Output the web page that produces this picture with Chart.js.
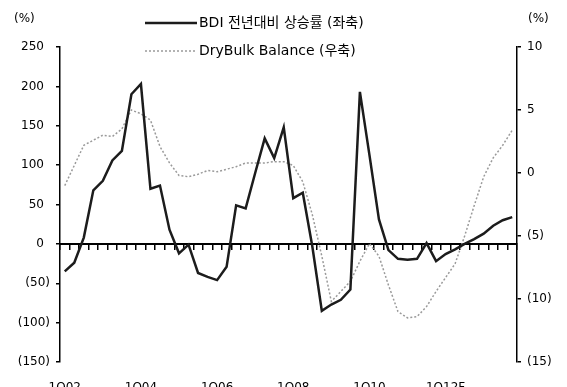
<!DOCTYPE html>
<html>
<head>
<meta charset="utf-8">
<script src="https://cdn.jsdelivr.net/npm/chart.js@4.4.1/dist/chart.umd.min.js"></script>
<style>
  html, body { margin: 0; padding: 0; background: #fff; overflow: hidden; }
  #wrap { width: 567px; height: 387px; overflow: hidden; position: relative; }
  canvas { display: block; }
</style>
</head>
<body>
<div id="wrap"><canvas id="chart" width="567" height="420"></canvas></div>
<script>
// Quarterly categories, 1Q02 - 4Q13 (2012 onward are forecasts)
const quarters = [
  '1Q02','2Q02','3Q02','4Q02','1Q03','2Q03','3Q03','4Q03',
  '1Q04','2Q04','3Q04','4Q04','1Q05','2Q05','3Q05','4Q05',
  '1Q06','2Q06','3Q06','4Q06','1Q07','2Q07','3Q07','4Q07',
  '1Q08','2Q08','3Q08','4Q08','1Q09','2Q09','3Q09','4Q09',
  '1Q10','2Q10','3Q10','4Q10','1Q11','2Q11','3Q11','4Q11',
  '1Q12F','2Q12F','3Q12F','4Q12F','1Q13F','2Q13F','3Q13F','4Q13F'
];
// Category labels printed under the plot
const axisLabels = ['1Q02','1Q04','1Q06','1Q08','1Q10','1Q12F'];

// BDI year-on-year change (%), left axis
const bdiYoY = [
  -35, -24, 8, 68, 80, 106, 118, 190,
  203, 70, 74, 18, -12, -1, -37, -42,
  -46, -29, 49, 45, 90, 134, 109, 148,
  58, 65, -3, -85, -77, -71, -58, 193,
  113, 31, -8, -19, -20, -19, 1, -22,
  -13, -7, 0, 6, 13, 23, 30, 34
];
// Dry bulk supply/demand balance (%), right axis
const dryBulkBalance = [
  -1.0, 0.6, 2.2, 2.6, 3.0, 2.9, 3.5, 5.0,
  4.7, 4.2, 2.1, 0.8, -0.2, -0.3, -0.1, 0.2,
  0.1, 0.3, 0.5, 0.8, 0.8, 0.8, 0.9, 0.9,
  0.6, -0.7, -3.3, -6.6, -10.2, -9.4, -8.6, -7.0,
  -5.6, -6.6, -8.9, -11.0, -11.5, -11.4, -10.6, -9.4,
  -8.3, -7.2, -5.0, -2.6, -0.3, 1.2, 2.2, 3.4
];

const seriesNames = ['BDI 전년대비 상승률 (좌축)', 'DryBulk Balance (우축)'];
const leftRange = [-150, 250, 50];
const rightRange = [-15, 10, 5];

const FONT = "'DejaVu Sans', 'Noto Sans CJK KR', sans-serif";
Chart.defaults.font.family = FONT;
Chart.defaults.color = '#000';

// accounting style: negatives in parentheses
const fmtLeft = v => v < 0 ? '(' + Math.abs(v) + ')' : v + '\u2002';
const fmtRight = v => v < 0 ? '(' + Math.abs(v) + ')' : String(v);

// unit captions and the stacked two-row legend inside the top of the plot
const captions = {
  id: 'captions',
  afterDraw(chart) {
    const ctx = chart.ctx;
    ctx.save();
    ctx.fillStyle = '#000';
    ctx.textBaseline = 'middle';
    ctx.textAlign = 'left';
    ctx.font = '12px ' + FONT;
    ctx.fillText('(%)', 14, 19);
    ctx.fillText('(%)', 528, 19);

    const rows = [23, 51];
    ctx.font = '14px ' + FONT;
    chart.data.datasets.forEach((ds, i) => {
      const y = rows[i];
      ctx.beginPath();
      ctx.strokeStyle = ds.borderColor;
      ctx.lineWidth = ds.borderWidth;
      ctx.setLineDash(ds.borderDash || []);
      ctx.moveTo(145, y);
      ctx.lineTo(197, y);
      ctx.stroke();
      ctx.setLineDash([]);
      ctx.fillText(ds.label, 199, y);
    });
    ctx.restore();
  }
};

new Chart(document.getElementById('chart'), {
  type: 'line',
  data: {
    labels: quarters,
    datasets: [
      {
        label: seriesNames[0],
        data: bdiYoY,
        yAxisID: 'y',
        xAxisID: 'x',
        borderColor: '#1c1c1c',
        borderWidth: 2.5,
        pointRadius: 0,
        tension: 0
      },
      {
        label: seriesNames[1],
        data: dryBulkBalance,
        yAxisID: 'y1',
        xAxisID: 'x',
        borderColor: '#9a9a9a',
        borderWidth: 1.5,
        borderDash: [2, 2],
        pointRadius: 0,
        tension: 0
      }
    ]
  },
  options: {
    responsive: false,
    animation: false,
    devicePixelRatio: 1,
    layout: { padding: { left: 0, right: 0, top: 47, bottom: 33 } },
    plugins: { legend: { display: false }, tooltip: { enabled: false } },
    scales: {
      x: {
        type: 'category',
        position: 'bottom',
        offset: true,
        grid: { display: false, drawTicks: false },
        border: { display: false },
        ticks: {
          autoSkip: false,
          maxRotation: 0,
          padding: 19,
          font: { size: 12 },
          callback(v) {
            const l = this.getLabelForValue(v);
            return axisLabels.includes(l) ? l : '';
          }
        },
        afterFit(s) { s.height = 25; }
      },
      x0: {
        type: 'category',
        position: { y: 0 },
        offset: true,
        grid: { offset: true, drawOnChartArea: false, drawTicks: true, tickLength: 5, color: '#000', lineWidth: 1.5 },
        border: { color: '#000', width: 2 },
        ticks: { display: false }
      },
      y: {
        position: 'left',
        min: leftRange[0], max: leftRange[1],
        ticks: { stepSize: leftRange[2], padding: 6, font: { size: 12 }, callback: v => fmtLeft(v) },
        grid: { drawOnChartArea: false, drawTicks: true, tickLength: 4, color: '#000', lineWidth: 1.5 },
        border: { color: '#000', width: 1.5 },
        afterFit(s) { s.width = 60; }
      },
      y1: {
        position: 'right',
        min: rightRange[0], max: rightRange[1],
        ticks: { stepSize: rightRange[2], padding: 6, font: { size: 12 }, callback: v => fmtRight(v) },
        grid: { drawOnChartArea: false, drawTicks: true, tickLength: 4, color: '#000', lineWidth: 1.5 },
        border: { color: '#000', width: 1.5 },
        afterFit(s) { s.width = 50; }
      }
    }
  },
  plugins: [captions]
});
</script>
</body>
</html>
